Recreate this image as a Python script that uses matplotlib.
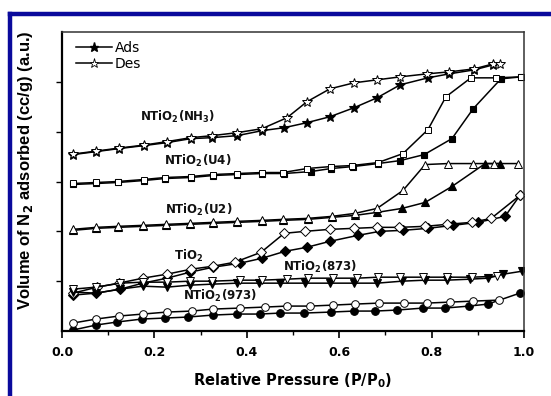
import matplotlib
matplotlib.use("Agg")
import matplotlib.pyplot as plt
from matplotlib.lines import Line2D

plt.rcParams['font.family'] = ['DejaVu Sans']
plt.rcParams['mathtext.fontset'] = 'dejavusans'

# ---------------- data (relative pressure, volume in arbitrary offset units) -------------
nh3_ads_x = [0.024, 0.074, 0.123, 0.177, 0.227, 0.279, 0.325, 0.379, 0.433, 0.481, 0.530, 0.580, 0.632, 0.682, 0.732, 0.792, 0.838, 0.892, 0.933]
nh3_ads_y = [3.54, 3.60, 3.66, 3.72, 3.78, 3.86, 3.88, 3.92, 4.02, 4.08, 4.18, 4.30, 4.48, 4.68, 4.94, 5.08, 5.16, 5.24, 5.34]
nh3_des_x = [0.024, 0.074, 0.123, 0.177, 0.227, 0.279, 0.325, 0.379, 0.433, 0.487, 0.530, 0.580, 0.632, 0.682, 0.732, 0.790, 0.838, 0.892, 0.933, 0.948]
nh3_des_y = [3.55, 3.61, 3.67, 3.73, 3.80, 3.88, 3.92, 3.98, 4.06, 4.28, 4.60, 4.86, 4.98, 5.04, 5.10, 5.16, 5.20, 5.26, 5.36, 5.36]

u4_ads_x = [0.024, 0.074, 0.121, 0.177, 0.223, 0.279, 0.327, 0.379, 0.433, 0.481, 0.539, 0.582, 0.630, 0.684, 0.732, 0.784, 0.844, 0.890, 0.950, 0.994]
u4_ads_y = [2.94, 2.96, 2.98, 3.02, 3.06, 3.08, 3.12, 3.14, 3.16, 3.16, 3.20, 3.26, 3.30, 3.36, 3.42, 3.54, 3.86, 4.46, 5.06, 5.10]
u4_des_x = [0.024, 0.074, 0.121, 0.177, 0.223, 0.279, 0.327, 0.379, 0.433, 0.478, 0.530, 0.582, 0.628, 0.684, 0.738, 0.792, 0.831, 0.885, 0.939, 0.994]
u4_des_y = [2.96, 2.98, 3.00, 3.04, 3.08, 3.10, 3.14, 3.16, 3.18, 3.18, 3.26, 3.30, 3.32, 3.38, 3.56, 4.04, 4.70, 5.08, 5.08, 5.10]

u2_ads_x = [0.024, 0.074, 0.121, 0.175, 0.225, 0.277, 0.327, 0.379, 0.433, 0.478, 0.532, 0.584, 0.634, 0.682, 0.736, 0.786, 0.844, 0.916, 0.948]
u2_ads_y = [2.02, 2.06, 2.08, 2.10, 2.12, 2.14, 2.16, 2.18, 2.20, 2.22, 2.24, 2.28, 2.32, 2.38, 2.46, 2.58, 2.90, 3.36, 3.36]
u2_des_x = [0.024, 0.074, 0.121, 0.175, 0.225, 0.277, 0.327, 0.379, 0.433, 0.478, 0.532, 0.584, 0.634, 0.682, 0.738, 0.786, 0.835, 0.889, 0.935, 0.987]
u2_des_y = [2.04, 2.08, 2.10, 2.12, 2.14, 2.16, 2.18, 2.20, 2.22, 2.24, 2.26, 2.30, 2.36, 2.46, 2.82, 3.34, 3.36, 3.36, 3.36, 3.36]

tio2_ads_x = [0.024, 0.074, 0.126, 0.175, 0.227, 0.277, 0.327, 0.385, 0.433, 0.483, 0.530, 0.580, 0.641, 0.688, 0.738, 0.792, 0.846, 0.900, 0.959, 0.991]
tio2_ads_y = [0.72, 0.76, 0.84, 0.96, 1.06, 1.18, 1.28, 1.36, 1.46, 1.60, 1.68, 1.80, 1.92, 2.00, 2.02, 2.06, 2.12, 2.18, 2.30, 2.72]
tio2_des_x = [0.024, 0.076, 0.123, 0.175, 0.227, 0.279, 0.327, 0.374, 0.431, 0.481, 0.526, 0.580, 0.632, 0.682, 0.729, 0.786, 0.833, 0.887, 0.929, 0.991]
tio2_des_y = [0.76, 0.88, 0.96, 1.06, 1.14, 1.24, 1.30, 1.38, 1.58, 1.96, 2.00, 2.04, 2.06, 2.08, 2.08, 2.10, 2.14, 2.18, 2.26, 2.72]

n873_ads_x = [0.024, 0.074, 0.126, 0.175, 0.227, 0.277, 0.325, 0.379, 0.426, 0.472, 0.526, 0.580, 0.632, 0.682, 0.736, 0.786, 0.833, 0.883, 0.922, 0.955, 0.996]
n873_ads_y = [0.78, 0.76, 0.84, 0.90, 0.88, 0.92, 0.94, 0.96, 0.96, 0.96, 0.96, 0.96, 0.96, 0.96, 1.00, 1.02, 1.02, 1.04, 1.06, 1.14, 1.20]
n873_des_x = [0.024, 0.074, 0.126, 0.175, 0.227, 0.277, 0.325, 0.385, 0.433, 0.487, 0.532, 0.587, 0.639, 0.684, 0.732, 0.781, 0.833, 0.887, 0.942]
n873_des_y = [0.84, 0.88, 0.96, 0.98, 0.98, 1.00, 1.00, 1.02, 1.02, 1.04, 1.06, 1.06, 1.06, 1.08, 1.08, 1.08, 1.08, 1.08, 1.10]

n973_ads_x = [0.024, 0.074, 0.119, 0.173, 0.223, 0.273, 0.327, 0.379, 0.429, 0.472, 0.524, 0.582, 0.632, 0.677, 0.725, 0.781, 0.829, 0.881, 0.922, 0.991]
n973_ads_y = [0.02, 0.12, 0.18, 0.24, 0.26, 0.28, 0.32, 0.34, 0.34, 0.36, 0.36, 0.38, 0.40, 0.40, 0.42, 0.46, 0.46, 0.50, 0.54, 0.76]
n973_des_x = [0.024, 0.074, 0.123, 0.175, 0.227, 0.281, 0.327, 0.385, 0.439, 0.487, 0.537, 0.587, 0.634, 0.686, 0.740, 0.790, 0.840, 0.890, 0.946]
n973_des_y = [0.16, 0.24, 0.30, 0.34, 0.38, 0.40, 0.44, 0.46, 0.48, 0.50, 0.50, 0.52, 0.54, 0.56, 0.56, 0.56, 0.58, 0.60, 0.62]

labels = ["NTiO$_\\mathbf{2}$(NH$_\\mathbf{3}$)", "NTiO$_\\mathbf{2}$(U4)", "NTiO$_\\mathbf{2}$(U2)",
          "TiO$_\\mathbf{2}$", "NTiO$_\\mathbf{2}$(873)", "NTiO$_\\mathbf{2}$(973)"]
label_x = [0.25, 0.294, 0.297, 0.275, 0.558, 0.342]
label_y = [4.30, 3.42, 2.42, 1.50, 1.28, 0.70]

xticks = [0.0, 0.2, 0.4, 0.6, 0.8, 1.0]
xticklabels = ["0.0", "0.2", "0.4", "0.6", "0.8", "1.0"]

# ---------------- figure -------------
W, H = 551, 396
fig = plt.figure(figsize=(W / 100, H / 100), dpi=100)
ax = fig.add_axes([62 / W, 1 - 331 / H, (524 - 62) / W, (331 - 32) / H])

# blue frame
blue = "#0a0a9c"
fig.add_artist(Line2D([9.5 / W, 9.5 / W], [0, 1 - 13.5 / H], transform=fig.transFigure, color=blue, lw=3.2, solid_capstyle='projecting'))
fig.add_artist(Line2D([9.5 / W, 1.0], [1 - 13.5 / H, 1 - 13.5 / H], transform=fig.transFigure, color=blue, lw=3.2, solid_capstyle='projecting'))

lw = 1.1
ms = 5.5

def plot_pair(ax_, xa, ya, xd, yd, marker, ms_=ms):
    ax_.plot(xa, ya, '-', color='black', lw=lw, marker=marker, ms=ms_, mfc='black', mec='black', mew=0.8)
    ax_.plot(xd, yd, '-', color='black', lw=lw, marker=marker, ms=ms_, mfc='white', mec='black', mew=0.7)

plot_pair(ax, nh3_ads_x, nh3_ads_y, nh3_des_x, nh3_des_y, '*', ms + 1.5)
plot_pair(ax, u4_ads_x, u4_ads_y, u4_des_x, u4_des_y, 's', ms - 0.5)
plot_pair(ax, u2_ads_x, u2_ads_y, u2_des_x, u2_des_y, '^', ms + 0.5)
plot_pair(ax, tio2_ads_x, tio2_ads_y, tio2_des_x, tio2_des_y, 'D', ms - 0.5)
plot_pair(ax, n873_ads_x, n873_ads_y, n873_des_x, n873_des_y, 'v', ms + 0.5)
plot_pair(ax, n973_ads_x, n973_ads_y, n973_des_x, n973_des_y, 'o', ms)

for t, lx, ly in zip(labels, label_x, label_y):
    ax.text(lx, ly, t, fontsize=8.5, fontweight='bold', ha='center', va='center', color='#111111')

# legend
h1 = Line2D([], [], color='black', lw=lw, marker='*', ms=6.5, mfc='black', mec='black')
h2 = Line2D([], [], color='black', lw=lw, marker='*', ms=6.5, mfc='white', mec='black', mew=0.6)
leg = ax.legend([h1, h2], ["Ads", "Des"], loc='upper left', frameon=False, fontsize=10,
                handlelength=2.6, handletextpad=0.2, labelspacing=0.15, borderaxespad=0.0,
                bbox_to_anchor=(0.018, 0.99))

ax.set_xlim(0, 1.0)
ax.set_ylim(0, 6)
ax.set_xticks(xticks)
ax.set_xticklabels(xticklabels, fontweight='bold', fontsize=9)
ax.set_xticks([0.1, 0.3, 0.5, 0.7, 0.9], minor=True)
ax.set_yticks([1, 2, 3, 4, 5])
ax.set_yticklabels([])
ax.tick_params(axis='x', which='major', direction='out', length=5, width=1.2, pad=6)
ax.tick_params(axis='x', which='minor', direction='out', length=3, width=1.0)
ax.tick_params(axis='y', which='major', direction='out', length=4, width=1.0)

for s in ['left', 'bottom']:
    ax.spines[s].set_linewidth(1.6)
for s in ['top', 'right']:
    ax.spines[s].set_linewidth(1.1)
    ax.spines[s].set_color('#333333')

ax.set_xlabel("Relative Pressure (P/P$_\\mathbf{0}$)", fontsize=10.5, fontweight='bold', labelpad=9)
ax.set_ylabel("Volume of N$_\\mathbf{2}$ adsorbed (cc/g) (a.u.)", fontsize=12, fontweight='bold',
              family='Liberation Sans')
ax.yaxis.set_label_coords(-0.058, 0.538)

fig.savefig("out.png", dpi=100)
